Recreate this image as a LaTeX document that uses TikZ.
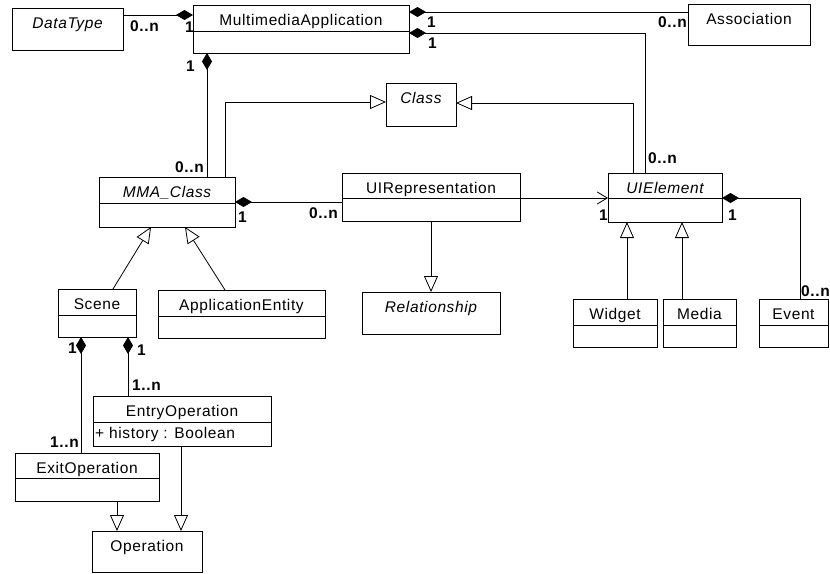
\documentclass[tikz,border=0pt]{standalone}
\usepackage{fontspec}
\setmainfont{Liberation Sans}[LetterSpace=4]
\usetikzlibrary{fit,arrows.meta}
\newcommand\fsz{\fontsize{15.5pt}{17pt}\selectfont}
\newcommand\klass[6]{%
  \node[box, fit={(#2,#3) (#4,#5)}] (#1) {};
  \node[ttl] (#1-t) at ({(#2+#4)/2},{#3+20}) {#6};
}
\newcommand\ksep[2]{\draw[line width=0.9pt] ([yshift=-#2pt]#1.north west) -- ([yshift=-#2pt]#1.north east);}
\begin{document}
\begin{tikzpicture}[x=1pt,y=-1pt,
  box/.style={draw, line width=0.9pt, inner sep=0pt, outer sep=0pt},
  ttl/.style={inner sep=0pt, anchor=base, font=\fsz},
  mult/.style={inner sep=0pt, anchor=base west, font=\fsz\bfseries},
  conn/.style={line width=0.8pt},
  comp/.style={conn, -{Diamond[length=17pt,width=10pt]}},
  gen/.style={conn, -{Triangle[open,length=16pt,width=14pt,fill=white]}},
  nav/.style={conn, -{Straight Barb[length=10pt,width=12pt]}},
]
\useasboundingbox (0,0) rectangle (830,573);

% classes
\klass{datatype}{12}{8}{123}{50}{\itshape DataType}
\klass{mmapp}{193}{5}{409}{53}{MultimediaApplication}
\ksep{mmapp}{26}
\klass{assoc}{688}{4}{810}{45}{Association}
\klass{class}{386}{83}{456}{126}{\itshape Class}
\klass{mmaclass}{99}{177}{235}{227}{\itshape MMA\_Class}
\ksep{mmaclass}{26}
\klass{uirep}{342}{173}{520}{221}{UIRepresentation}
\ksep{uirep}{25}
\klass{uielem}{608}{173}{722}{222}{\itshape UIElement}
\ksep{uielem}{25}
\klass{scene}{58}{289}{136}{337}{Scene}
\ksep{scene}{26}
\klass{appent}{158}{290}{325}{338}{ApplicationEntity}
\ksep{appent}{26}
\klass{relationship}{362}{292}{500}{334}{\itshape Relationship}
\klass{widget}{573}{299}{657}{347}{Widget}
\ksep{widget}{26}
\klass{media}{663}{299}{736}{347}{Media}
\ksep{media}{26}
\klass{event}{759}{299}{828}{347}{Event}
\ksep{event}{26}
\node[inner sep=0pt, anchor=base west, font=\fsz] (entryop-a) at (95,438) {+ history : Boolean};
\klass{entryop}{93}{396}{271}{446}{EntryOperation}
\ksep{entryop}{26}
\klass{exitop}{15}{453}{159}{501}{ExitOperation}
\ksep{exitop}{25}
\klass{operation}{92}{531}{202}{572}{Operation}

% connectors
\draw[comp] ([yshift=-7pt]datatype.north east) -- ([yshift=-10pt]mmapp.north west);
\draw[comp] ([xshift=108pt]mmaclass.north west) -- ([xshift=14pt]mmapp.south west);
\draw[gen] ([xshift=126pt]mmaclass.north west) |- ([yshift=-19pt]class.north west);
\draw[gen] ([xshift=25pt]uielem.north west) |- ([yshift=-20pt]class.north east);
\draw[comp] ([yshift=-8pt]assoc.north west) -- ([yshift=-7pt]mmapp.north east);
\draw[comp] ([xshift=37pt]uielem.north west) |- ([yshift=-28pt]mmapp.north east);
\draw[comp] ([yshift=-29pt]uirep.north west) -- ([yshift=-25pt]mmaclass.north east);
\draw[nav] ([yshift=-25pt]uirep.north east) -- ([yshift=-25pt]uielem.north west);
\draw[comp] ([xshift=41pt]event.north west) |- ([yshift=-25pt]uielem.north east);
\draw[gen] ([xshift=54pt]widget.north west) -- ([xshift=19pt]uielem.south west);
\draw[gen] ([xshift=19pt]media.north west) -- ([xshift=74pt]uielem.south west);
\draw[gen] ([xshift=89pt]uirep.south west) -- ([xshift=69pt]relationship.north west);
\draw[gen] ([xshift=55pt]scene.north west) -- ([xshift=52pt]mmaclass.south west);
\draw[gen] ([xshift=67pt]appent.north west) -- ([xshift=86pt]mmaclass.south west);
\draw[comp] ([xshift=66pt]exitop.north west) -- ([xshift=23pt]scene.south west);
\draw[comp] ([xshift=35pt]entryop.north west) -- ([xshift=70pt]scene.south west);
\draw[gen] ([xshift=102pt]exitop.south west) -- ([xshift=25pt]operation.north west);
\draw[gen] ([xshift=88pt]entryop.south west) -- ([xshift=89pt]operation.north west);

% multiplicities
\node[mult] (m1) at (130,31) {0..n};
\node[mult] (m2) at (185,32) {1};
\node[mult] (m3) at (186,71) {1};
\node[mult] (m4) at (175,172) {0..n};
\node[mult] (m5) at (427,27) {1};
\node[mult] (m6) at (658,27) {0..n};
\node[mult] (m7) at (428,48) {1};
\node[mult] (m8) at (648,163) {0..n};
\node[mult] (m9) at (238,222) {1};
\node[mult] (m10) at (309,218) {0..n};
\node[mult] (m11) at (599,220) {1};
\node[mult] (m12) at (728,220) {1};
\node[mult] (m13) at (801,296) {0..n};
\node[mult] (m14) at (68,353) {1};
\node[mult] (m15) at (137,355) {1};
\node[mult] (m16) at (132,390) {1..n};
\node[mult] (m17) at (50,447) {1..n};
\end{tikzpicture}
\end{document}
